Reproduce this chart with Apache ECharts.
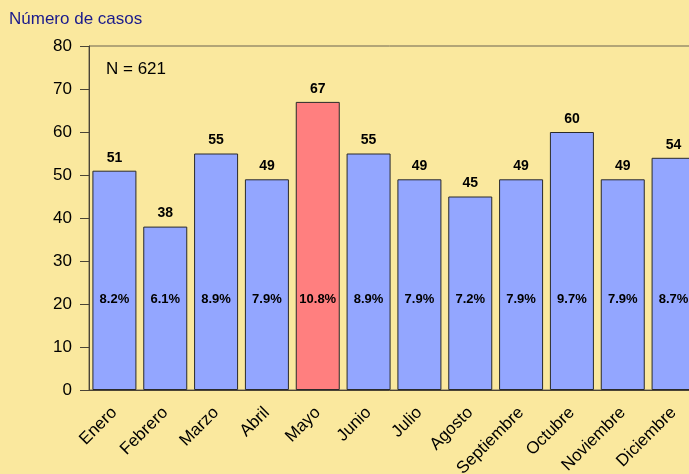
<!DOCTYPE html>
<html>
<head>
<meta charset="utf-8">
<script src="https://cdn.jsdelivr.net/npm/echarts@6/dist/echarts.min.js"></script>
<style>
  html, body { margin: 0; padding: 0; background: #FAE89E; }
  #main { width: 689px; height: 474px; }
</style>
</head>
<body>
<div id="main"></div>
<script>
var meses = ['Enero', 'Febrero', 'Marzo', 'Abril', 'Mayo', 'Junio', 'Julio', 'Agosto', 'Septiembre', 'Octubre', 'Noviembre', 'Diciembre'];
var casos = [51, 38, 55, 49, 67, 55, 49, 45, 49, 60, 49, 54];
var porcentajes = ['8.2%', '6.1%', '8.9%', '7.9%', '10.8%', '8.9%', '7.9%', '7.2%', '7.9%', '9.7%', '7.9%', '8.7%'];
var mesDestacado = 'Mayo';
var totalCasos = 621;

var myChart = echarts.init(document.getElementById('main'));
var fuente = 'Liberation Sans, Arial, sans-serif';

var barras = casos.map(function (v, i) {
  return {
    value: v,
    itemStyle: { color: meses[i] == mesDestacado ? '#FF7F7F' : '#93A6FF' }
  };
});

var option = {
  backgroundColor: '#FAE89E',
  animation: false,
  textStyle: { fontFamily: fuente },
  title: [{
    text: 'Número de casos',
    left: 9,
    top: 11,
    padding: 0,
    textStyle: { color: '#1A1A8C', fontSize: 17, fontWeight: 'normal', fontFamily: fuente }
  }, {
    text: 'N = ' + totalCasos,
    left: 106,
    top: 61,
    padding: 0,
    textStyle: { color: '#000', fontSize: 17, fontWeight: 'normal', fontFamily: fuente }
  }],
  grid: {
    left: 89,
    top: 46,
    width: 610,
    bottom: 84,
    outerBoundsMode: 'none',
    containLabel: false,
    show: true,
    borderWidth: 1,
    borderColor: '#6B6350',
    backgroundColor: 'transparent'
  },
  xAxis: {
    type: 'category',
    data: meses,
    axisLine: { lineStyle: { color: '#4A4436', width: 1 } },
    axisTick: { alignWithLabel: true, length: 8, lineStyle: { color: '#4A4436' } },
    axisLabel: { rotate: 45, fontSize: 17, color: '#000', margin: 20, fontFamily: fuente }
  },
  yAxis: {
    type: 'value',
    min: 0,
    max: 80,
    interval: 10,
    splitLine: { show: false },
    axisLine: { show: true, lineStyle: { color: '#4A4436', width: 1 } },
    axisTick: { show: true, length: 9, lineStyle: { color: '#4A4436' } },
    axisLabel: { fontSize: 17, color: '#000', margin: 17, fontFamily: fuente }
  },
  series: [{
    name: 'Casos',
    type: 'bar',
    data: barras,
    barWidth: 44,
    itemStyle: { borderColor: '#2A2A2A', borderWidth: 1 },
    label: {
      show: true,
      position: 'top',
      distance: 6,
      fontSize: 14,
      fontWeight: 'bold',
      color: '#000',
      fontFamily: fuente
    }
  }, {
    name: 'Porcentaje',
    type: 'bar',
    data: casos,
    barWidth: 44,
    barGap: '-100%',
    silent: true,
    itemStyle: { color: 'transparent' },
    label: {
      show: true,
      position: 'insideBottom',
      distance: 84,
      fontSize: 13,
      fontWeight: 'bold',
      color: '#000',
      fontFamily: fuente,
      formatter: function (p) { return porcentajes[p.dataIndex]; }
    }
  }]
};

myChart.setOption(option);
</script>
</body>
</html>
